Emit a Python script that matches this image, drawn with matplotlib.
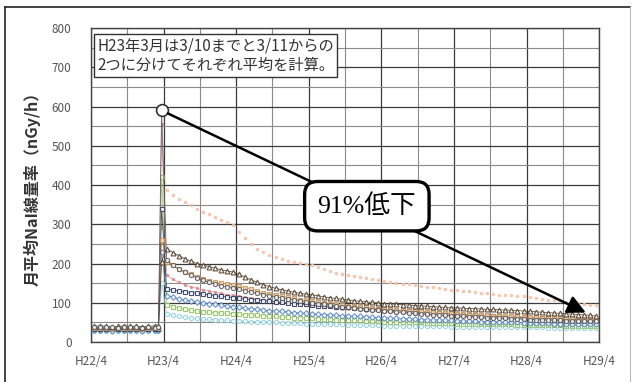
import numpy as np
import matplotlib.pyplot as plt
from matplotlib.lines import Line2D

plt.rcParams['font.family'] = ['Noto Sans CJK JP', 'DejaVu Sans']

# monthly NaI dose-rate averages (nGy/h), H22/4 .. H29/3
# first 12 values: H22/4 .. H23/2 and H23/3 (to 3/10); then H23/3 (from 3/11), H23/4 .. H29/3
st_a = [38, 37, 38, 37, 36, 37, 38, 37, 36, 37, 36, 37,
        590,
        210, 196, 186, 178, 170, 163, 157, 152, 147, 143, 140, 137,
        134, 130, 127, 124, 121, 118, 115, 112, 110, 107, 105, 103,
        100, 98, 96, 94, 92, 90, 88, 87, 85, 84, 82, 81,
        80, 78, 77, 76, 74, 73, 72, 71, 70, 69, 68, 67,
        66, 65, 64, 64, 63, 62, 61, 61, 60, 59, 59, 58,
        57, 57, 56, 56, 55, 55, 54, 54, 54, 53, 53, 53]
st_b = [34, 35, 34, 33, 34, 35, 34, 33, 34, 34, 35, 34,
        555,
        170, 160, 152, 146, 141, 137, 133, 130, 127, 124, 121, 119,
        117, 114, 112, 110, 107, 105, 103, 101, 99, 97, 96, 94,
        92, 91, 89, 88, 86, 85, 84, 83, 82, 80, 79, 78,
        77, 76, 75, 74, 73, 72, 71, 70, 70, 69, 68, 67,
        66, 66, 65, 64, 64, 63, 62, 62, 61, 61, 60, 60,
        59, 59, 58, 58, 57, 57, 56, 56, 56, 55, 55, 55]
st_c = [32, 31, 32, 33, 32, 31, 32, 32, 31, 32, 33, 32,
        420,
        95, 90, 86, 83, 81, 79, 77, 76, 75, 74, 73, 72,
        71, 70, 69, 68, 67, 66, 65, 64, 63, 62, 62, 61,
        60, 59, 58, 58, 57, 56, 56, 55, 55, 54, 54, 53,
        52, 52, 51, 51, 50, 50, 50, 49, 49, 48, 48, 48,
        47, 47, 47, 46, 46, 46, 45, 45, 45, 45, 44, 44,
        44, 44, 43, 43, 43, 43, 42, 42, 42, 42, 41, 41]
st_d = [33, 34, 33, 32, 33, 34, 33, 33, 32, 33, 34, 33,
        340,
        135, 132, 130, 128, 126, 124, 122, 120, 118, 116, 115, 113,
        111, 110, 108, 107, 105, 104, 102, 101, 99, 98, 97, 96,
        95, 93, 92, 91, 90, 89, 88, 87, 86, 85, 84, 83,
        82, 81, 80, 79, 78, 77, 76, 75, 74, 73, 72, 71,
        70, 69, 68, 68, 67, 66, 65, 65, 64, 63, 63, 62,
        61, 61, 60, 60, 59, 59, 58, 58, 57, 57, 56, 56]
st_e = [36, 37, 36, 35, 36, 37, 36, 36, 35, 36, 37, 36,
        290,
        388, 375, 365, 357, 348, 340, 331, 325, 318, 312, 306, 298,
        280, 265, 250, 238, 229, 222, 216, 211, 207, 204, 201, 198,
        195, 190, 185, 180, 176, 173, 170, 168, 166, 164, 161, 158,
        155, 153, 151, 149, 147, 145, 143, 141, 139, 137, 135, 133,
        132, 130, 129, 127, 126, 124, 123, 121, 120, 119, 117, 116,
        114, 112, 110, 108, 107, 105, 103, 101, 99, 97, 95, 94]
st_f = [35, 36, 35, 34, 35, 36, 35, 35, 34, 35, 36, 35,
        260,
        205, 195, 185, 178, 172, 166, 160, 156, 152, 150, 148, 145,
        142, 138, 134, 130, 126, 123, 120, 117, 114, 111, 108, 106,
        104, 102, 100, 98, 96, 94, 92, 90, 89, 88, 86, 85,
        84, 83, 82, 81, 80, 79, 78, 77, 76, 75, 74, 73,
        72, 71, 70, 70, 69, 68, 67, 67, 66, 65, 65, 64,
        63, 63, 62, 62, 61, 61, 60, 60, 59, 59, 58, 58]
st_g = [30, 31, 30, 29, 30, 31, 30, 30, 29, 30, 31, 30,
        230,
        118, 114, 110, 107, 104, 102, 100, 98, 96, 94, 92, 90,
        88, 86, 85, 83, 82, 80, 79, 78, 77, 75, 74, 73,
        72, 71, 70, 69, 68, 67, 66, 65, 65, 64, 63, 62,
        61, 61, 60, 59, 59, 58, 57, 57, 56, 56, 55, 55,
        54, 54, 53, 53, 52, 52, 51, 51, 50, 50, 50, 49,
        49, 48, 48, 48, 47, 47, 47, 46, 46, 46, 45, 45]
st_h = [40, 41, 40, 39, 40, 41, 40, 40, 39, 40, 41, 40,
        205,
        238, 228, 220, 212, 206, 200, 196, 192, 188, 184, 181, 178,
        172, 165, 158, 152, 146, 141, 137, 133, 130, 127, 124, 122,
        120, 118, 115, 113, 111, 109, 107, 105, 104, 102, 101, 99,
        98, 97, 96, 95, 94, 93, 92, 91, 90, 89, 88, 87,
        87, 86, 85, 85, 84, 83, 83, 82, 81, 81, 80, 79,
        78, 77, 76, 75, 74, 73, 72, 71, 70, 69, 68, 66]
st_i = [28, 29, 28, 27, 28, 29, 28, 28, 27, 28, 29, 28,
        150,
        72, 68, 65, 63, 61, 60, 59, 58, 57, 56, 55, 54,
        54, 53, 52, 52, 51, 50, 50, 49, 49, 48, 48, 47,
        47, 46, 46, 45, 45, 45, 44, 44, 44, 43, 43, 43,
        42, 42, 42, 41, 41, 41, 41, 40, 40, 40, 40, 39,
        39, 39, 39, 39, 38, 38, 38, 38, 38, 37, 37, 37,
        37, 37, 37, 36, 36, 36, 36, 36, 35, 35, 35, 35]

year_labels = ['H22/4', 'H23/4', 'H24/4', 'H25/4', 'H26/4', 'H27/4', 'H28/4', 'H29/4']
note_text = 'H23年3月は3/10までと3/11からの\n2つに分けてそれぞれ平均を計算。'
ylabel_text = '月平均NaI線量率（nGy/h）'

# month positions: mid-month, March 2011 split into 3/1-3/10 and 3/11-3/31
pre_x = np.append(np.arange(11) + 0.5, 11.15)
post_x = np.append(11.67, np.arange(12, 84) + 0.5)
xs = np.concatenate([pre_x, post_x])

series = [
    (st_e, dict(color='#f5c2a8', marker='.', ms=3.5, lw=0.0, mfc='#f5c2a8')),
    (st_i, dict(color='#8ecfe0', marker='o', ms=3, lw=0.6, mfc='white')),
    (st_c, dict(color='#8cbf5a', marker='s', ms=3, lw=0.6, mfc='white')),
    (st_g, dict(color='#4f7fbf', marker='D', ms=2.8, lw=0.6, mfc='white')),
    (st_b, dict(color='#d98a8a', marker='.', ms=3, lw=0.6, mfc='#d98a8a')),
    (st_d, dict(color='#26335a', marker='s', ms=3.2, lw=0.6, mfc='white')),
    (st_f, dict(color='#c8925a', marker='s', ms=3.2, lw=0.6, mfc='#f3d9bd')),
    (st_h, dict(color='#4a3420', marker='^', ms=3.5, lw=0.6, mfc='white')),
    (st_a, dict(color='#555555', marker='o', ms=3, lw=0.6, mfc='white')),
]

fig = plt.figure(figsize=(6.32, 3.82), dpi=100)
ax = fig.add_axes([0.144, 0.1047, 0.804, 0.822])

for vals, st in series:
    ax.plot(xs, vals, color=st['color'], lw=st['lw'], marker=st['marker'],
            ms=st['ms'], mfc=st['mfc'], mec=st['color'], mew=0.8, alpha=0.85, zorder=3)

ax.set_xlim(0, 84)
ax.set_ylim(0, 800)
ax.set_xticks(np.arange(0, 85, 12))
ax.set_xticklabels(year_labels)
ax.set_xticks(np.arange(6, 84, 12), minor=True)
ax.set_yticks(np.arange(0, 801, 100))
ax.set_yticks(np.arange(50, 800, 100), minor=True)
ax.grid(which='major', color='#3a3a3a', lw=0.9, zorder=0)
ax.grid(which='minor', color='#8a8a8a', lw=0.8, zorder=0)
ax.set_axisbelow(True)
ax.tick_params(which='both', length=0)
ax.tick_params(axis='y', pad=14, labelsize=8.5, labelcolor='#555555')
ax.tick_params(axis='x', pad=9, labelsize=8.5, labelcolor='#555555')
for sp in ax.spines.values():
    sp.set_color('#444444')
    sp.set_linewidth(1.0)

ax.set_ylabel(ylabel_text, fontsize=11.5, fontweight='bold', color='#333333', labelpad=8)

# note box in the upper left
ax.text(1.0, 730, note_text, fontsize=11, color='#333333', va='center', ha='left',
        linespacing=1.2, zorder=6,
        bbox=dict(boxstyle='square,pad=0.2', fc='white', ec='#333333', lw=1.0))

# peak marker and arrow to the latest value
peak_i = int(np.argmax(st_a))
peak_x, peak_y = xs[peak_i], st_a[peak_i]
drop = round(100 * (1 - st_a[-1] / peak_y))
ax.plot(peak_x, peak_y, marker='o', ms=8.5, mfc='white', mec='#333333', mew=1.2, zorder=7)
ax.annotate('', xy=(81.8, 75), xytext=(peak_x, peak_y),
            arrowprops=dict(arrowstyle='-|>,head_length=1.1,head_width=0.55',
                            color='black', lw=1.8, shrinkA=5, shrinkB=0),
            zorder=8)
ax.text(45.6, 346, f'{drop}%低下', fontsize=18.5, ha='center', va='center',
        family=['Liberation Serif', 'Noto Sans CJK JP'], zorder=9,
        bbox=dict(boxstyle='round,pad=0.5,rounding_size=0.5', fc='white', ec='black', lw=2.4))

# outer frame
fig.add_artist(Line2D([5 / 632, 5 / 632], [0, 1 - 7 / 382], color='#222222', lw=1.2))
fig.add_artist(Line2D([5 / 632, 630 / 632], [1 - 7 / 382, 1 - 7 / 382], color='#222222', lw=1.2))
fig.add_artist(Line2D([630 / 632, 630 / 632], [0, 1 - 7 / 382], color='#bbbbbb', lw=0.8))

fig.savefig('out.png', dpi=100)
